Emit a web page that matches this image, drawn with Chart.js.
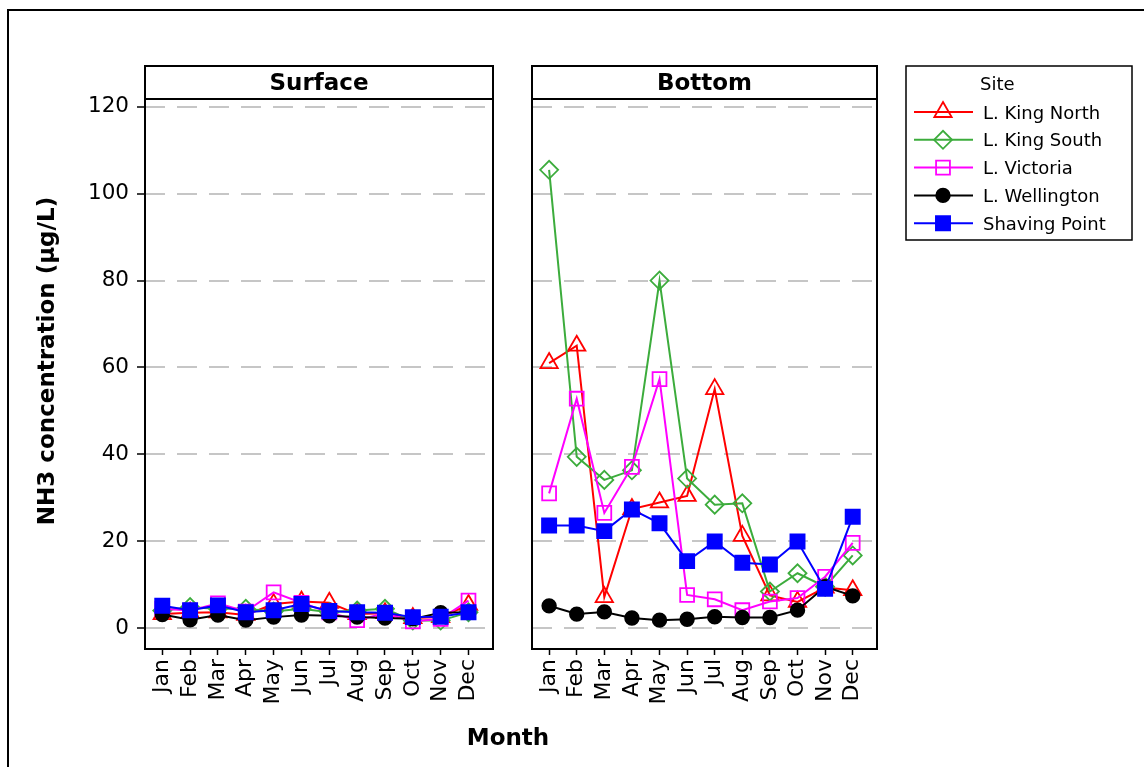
<!DOCTYPE html>
<html>
<head>
<meta charset="utf-8">
<title>NH3 concentration by month</title>
<script src="https://cdn.jsdelivr.net/npm/chart.js@4.4.1/dist/chart.umd.min.js"></script>
<style>
  html, body { margin: 0; padding: 0; background: #fff; }
  #wrap { position: relative; width: 1144px; height: 767px; overflow: hidden; }
  #frame { position: absolute; left: 7px; top: 9px; width: 1160px; height: 800px;
           border: 2px solid #000; box-sizing: border-box; }
  canvas { position: absolute; left: 0; top: 0; }
</style>
</head>
<body>
<div id="wrap">
  <div id="frame"></div>
  <canvas id="surfaceChart" width="1144" height="767"></canvas>
  <canvas id="bottomChart" width="1144" height="767"></canvas>
</div>
<script>
// ---- data -------------------------------------------------------------
const months = ['Jan', 'Feb', 'Mar', 'Apr', 'May', 'Jun', 'Jul', 'Aug', 'Sep', 'Oct', 'Nov', 'Dec'];
const yTicks = [0, 20, 40, 60, 80, 100, 120];
const siteNames = ['L. King North', 'L. King South', 'L. Victoria', 'L. Wellington', 'Shaving Point'];

// Surface samples (µg/L)
const kingNorthSurface  = [3.2, 3.5, 3.6, 3.0, 5.5, 6.1, 5.8, 3.2, 3.4, 2.3, 2.5, 5.3];
const kingSouthSurface  = [4.0, 4.8, 4.4, 4.4, 3.8, 4.4, 3.6, 4.0, 4.4, 1.7, 1.7, 3.6];
const victoriaSurface   = [4.4, 4.0, 5.7, 3.8, 8.2, 5.8, 3.6, 1.8, 3.4, 1.5, 2.1, 6.3];
const wellingtonSurface = [3.1, 1.9, 3.0, 1.8, 2.5, 3.0, 2.8, 2.5, 2.3, 2.1, 3.5, 3.6];
const shavingSurface    = [5.1, 4.1, 5.2, 3.6, 4.1, 5.5, 3.9, 3.6, 3.5, 2.5, 2.6, 3.6];

// Bottom samples (µg/L)
const kingNorthBottom   = [61.0, 65.0, 7.1, 27.4, 28.9, 30.4, 55.0, 21.2, 7.5, 6.0, 9.3, 8.7];
const kingSouthBottom   = [105.5, 39.4, 34.1, 36.3, 80.0, 34.4, 28.4, 28.7, 8.4, 12.6, 9.5, 16.7];
const victoriaBottom    = [31.0, 52.8, 26.5, 37.1, 57.3, 7.6, 6.6, 4.1, 6.1, 6.9, 11.8, 19.6];
const wellingtonBottom  = [5.1, 3.2, 3.7, 2.3, 1.8, 2.0, 2.6, 2.4, 2.4, 4.1, 9.5, 7.4];
const shavingBottom     = [23.6, 23.6, 22.3, 27.3, 24.1, 15.4, 19.9, 15.0, 14.6, 19.9, 9.0, 25.6];

// ---- styling ----------------------------------------------------------
const FONT = "'DejaVu Sans', Verdana, sans-serif";
const Y_MIN = -4.84, Y_MAX = 121.8;
const X_MIN = -0.62, X_MAX = 11.88;
const STRIP_H = 33;

const siteStyles = [
  { color: '#ff0000', pointStyle: 'triangle', radius: 10,  filled: false },
  { color: '#3cac3c', pointStyle: 'rectRot',  radius: 9,   filled: false },
  { color: '#ff00ff', pointStyle: 'rect',     radius: 9.8, filled: false },
  { color: '#000000', pointStyle: 'circle',   radius: 6.8, filled: true  },
  { color: '#0000ff', pointStyle: 'rect',     radius: 10,  filled: true  }
];

function makeDatasets(seriesList) {
  return seriesList.map((vals, i) => {
    const s = siteStyles[i];
    return {
      label: siteNames[i],
      data: vals.map((v, k) => ({ x: k, y: v })),
      borderColor: s.color,
      backgroundColor: s.color,
      borderWidth: 2,
      pointStyle: s.pointStyle,
      pointRadius: s.radius,
      pointHoverRadius: s.radius,
      pointBorderColor: s.color,
      pointBorderWidth: 1.8,
      pointBackgroundColor: s.filled ? s.color : 'rgba(0,0,0,0)',
      tension: 0,
      // later sites are painted above earlier ones
      order: siteNames.length - 1 - i
    };
  });
}

function makeScales(showY) {
  return {
    x: {
      type: 'linear', min: X_MIN, max: X_MAX,
      afterBuildTicks: s => { s.ticks = months.map((m, i) => ({ value: i })); },
      afterFit: s => { s.height = 118; },
      ticks: {
        autoSkip: false, minRotation: 90, maxRotation: 90, padding: 4,
        color: '#000', font: { family: FONT, size: 22 },
        callback: v => months[v]
      },
      grid: { drawOnChartArea: false, drawTicks: true, tickLength: 6, tickColor: '#000', tickWidth: 1.5 },
      border: { display: false }
    },
    y: {
      type: 'linear', min: Y_MIN, max: Y_MAX,
      afterBuildTicks: s => { s.ticks = yTicks.map(v => ({ value: v })); },
      afterFit: s => { s.width = showY ? 145 : 0; },
      ticks: { display: showY, padding: 8, color: '#000', font: { family: FONT, size: 21.5 } },
      grid: { color: '#c6c6c6', lineWidth: 2, drawTicks: showY, tickLength: 8,
              tickColor: '#000', tickWidth: 1.5, tickBorderDash: [] },
      border: { display: false, dash: [20, 12] }
    }
  };
}

// Panel outline plus the title strip above it
const panelFrame = {
  id: 'panelFrame',
  afterDraw(chart, args, opts) {
    const { ctx, chartArea: { left, top, right, bottom } } = chart;
    ctx.save();
    ctx.strokeStyle = '#000';
    ctx.lineWidth = 2;
    ctx.strokeRect(left, top, right - left, bottom - top);
    ctx.strokeRect(left, top - STRIP_H, right - left, STRIP_H);
    ctx.fillStyle = '#000';
    ctx.font = `bold 23px ${FONT}`;
    ctx.textAlign = 'center';
    ctx.textBaseline = 'alphabetic';
    ctx.fillText(opts.title, (left + right) / 2, top - 9);
    ctx.restore();
  }
};

// Shared axis titles
const axisTitles = {
  id: 'axisTitles',
  afterDraw(chart, args, opts) {
    if (!opts.show) return;
    const { ctx } = chart;
    ctx.save();
    ctx.fillStyle = '#000';
    ctx.font = `bold 23px ${FONT}`;
    ctx.textAlign = 'center';
    ctx.textBaseline = 'alphabetic';
    ctx.fillText('Month', 508, 745);
    ctx.translate(54, 361);
    ctx.rotate(-Math.PI / 2);
    ctx.fillText('NH3 concentration (µg/L)', 0, 0);
    ctx.restore();
  }
};

// Boxed legend with line + marker samples
const siteLegend = {
  id: 'siteLegend',
  afterDraw(chart, args, opts) {
    if (!opts.show) return;
    const { ctx } = chart;
    const bx = 906, by = 66, bw = 226, bh = 174;
    ctx.save();
    ctx.strokeStyle = '#000';
    ctx.lineWidth = 1.5;
    ctx.strokeRect(bx, by, bw, bh);
    ctx.fillStyle = '#000';
    ctx.font = `18px ${FONT}`;
    ctx.textAlign = 'left';
    ctx.textBaseline = 'alphabetic';
    ctx.fillText('Site', 980, 90);
    chart.data.datasets.forEach((ds, i) => {
      const y = 112 + i * 27.8;
      ctx.strokeStyle = ds.borderColor;
      ctx.lineWidth = 2;
      ctx.beginPath();
      ctx.moveTo(914, y);
      ctx.lineTo(973, y);
      ctx.stroke();
      ctx.strokeStyle = ds.pointBorderColor;
      ctx.fillStyle = ds.pointBackgroundColor;
      ctx.lineWidth = ds.pointBorderWidth;
      Chart.helpers.drawPoint(ctx, { pointStyle: ds.pointStyle, radius: ds.pointRadius, rotation: 0, borderWidth: ds.pointBorderWidth }, 943, y);
      ctx.fillStyle = '#000';
      ctx.fillText(ds.label, 983, y + 6.5);
    });
    ctx.restore();
  }
};

function makeChart(id, seriesList, title, showY, padding) {
  return new Chart(document.getElementById(id), {
    type: 'line',
    data: { datasets: makeDatasets(seriesList) },
    options: {
      responsive: false,
      animation: false,
      events: [],
      layout: { padding },
      scales: makeScales(showY),
      plugins: {
        legend: { display: false },
        tooltip: { enabled: false },
        panelFrame: { title },
        axisTitles: { show: showY },
        siteLegend: { show: !showY }
      }
    },
    plugins: [panelFrame, axisTitles, siteLegend]
  });
}

makeChart('surfaceChart',
  [kingNorthSurface, kingSouthSurface, victoriaSurface, wellingtonSurface, shavingSurface],
  'Surface', true, { top: 99, left: 0, right: 1144 - 493, bottom: 0 });

makeChart('bottomChart',
  [kingNorthBottom, kingSouthBottom, victoriaBottom, wellingtonBottom, shavingBottom],
  'Bottom', false, { top: 99, left: 532, right: 1144 - 877, bottom: 0 });
</script>
</body>
</html>
